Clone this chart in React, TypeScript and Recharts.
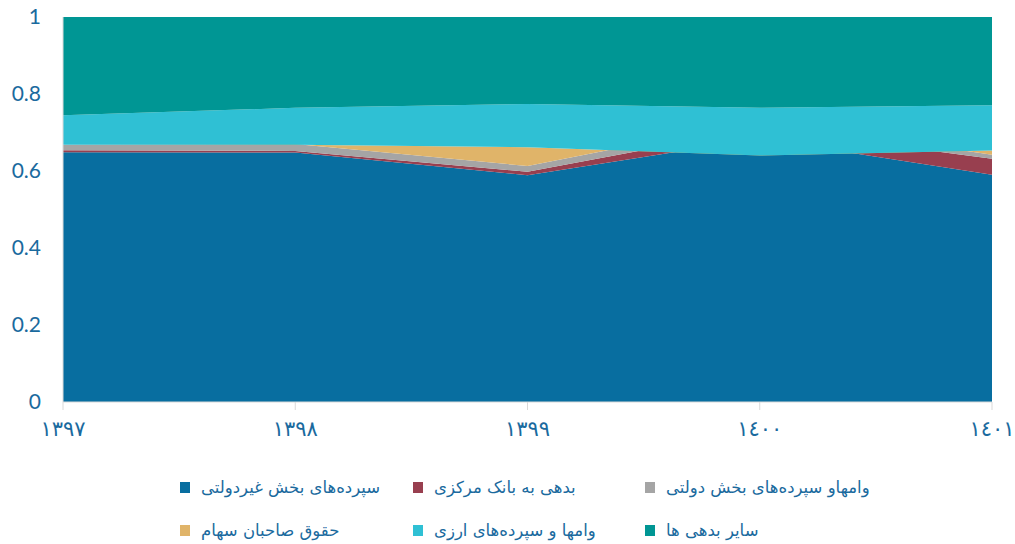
import { AreaChart, Area, XAxis, YAxis } from "recharts";

// years (Arabic-Indic digits as in the source chart)
const years = ["١٣٩٧", "١٣٩٨", "١٣٩٩", "١٤٠٠", "١٤٠١"];

// shares of total
const nonGovDeposits = [0.649, 0.648, 0.589, 0.684, 0.59];
const centralBankDebt = [0.005, 0.004, 0.009, 0.027, 0.042];
const govLoansDeposits = [0.014, 0.018, 0.015, 0.021, 0.01];
const equity = [0, -0.002, 0.049, -0.092, 0.011];
const fxLoansDeposits = [0.077, 0.096, 0.112, 0.124, 0.118];
const otherDebts = [0.255, 0.236, 0.226, 0.236, 0.229];

const yTicks = [0, 0.2, 0.4, 0.6, 0.8, 1];

const series = [
  { key: "nonGov", name: "سپرده‌های بخش غیردولتی", color: "#086ea0", values: nonGovDeposits },
  { key: "cb", name: "بدهی به بانک مرکزی", color: "#983f4f", values: centralBankDebt },
  { key: "gov", name: "وامهاو سپرده‌های بخش دولتی", color: "#a5a5a5", values: govLoansDeposits },
  { key: "equity", name: "حقوق صاحبان سهام", color: "#e0b469", values: equity },
  { key: "fx", name: "وامها و سپرده‌های ارزی", color: "#2fc0d4", values: fxLoansDeposits },
  { key: "other", name: "سایر بدهی ها", color: "#009694", values: otherDebts },
];

const data = years.map((year, i) => {
  const row: Record<string, string | number> = { year };
  series.forEach((s) => {
    row[s.key] = s.values[i];
  });
  return row;
});

const textColor = "#1a6a9e";
const colLeft = [180, 413, 645];
const rowTop = [476, 519];

function ChartLegend() {
  return (
    <>
      {series.map((s, i) => (
        <div
          key={s.key}
          style={{
            position: "absolute",
            left: colLeft[i % 3],
            top: rowTop[Math.floor(i / 3)],
            height: 22,
            display: "flex",
            alignItems: "center",
            gap: 11,
            whiteSpace: "nowrap",
          }}
        >
          <span style={{ width: 10, height: 11, background: s.color, display: "inline-block" }} />
          <span style={{ fontFamily: "DejaVu Sans", fontSize: 16.5, color: textColor }}>{s.name}</span>
        </div>
      ))}
    </>
  );
}

export default function App() {
  return (
    <div style={{ position: "absolute", left: 0, top: 0, width: 1015, height: 544, background: "#fff" }}>
      <AreaChart width={1015} height={460} data={data} margin={{ top: 17, right: 23, left: 0, bottom: 18 }}>
        <XAxis
          dataKey="year"
          height={40}
          tickSize={8}
          tickMargin={11}
          axisLine={{ stroke: "#d9d9d9" }}
          tickLine={{ stroke: "#d9d9d9" }}
          tick={{ fill: textColor, fontSize: 21, fontFamily: "DejaVu Sans" }}
          interval={0}
        />
        <YAxis
          width={63}
          domain={[0, 1]}
          ticks={yTicks}
          allowDataOverflow
          tickSize={0}
          tickMargin={22}
          tickLine={false}
          axisLine={{ stroke: "#d9d9d9" }}
          tick={{ fill: textColor, fontSize: 21, fontFamily: "Lato" }}
          tickFormatter={(v: number) => String(v)}
        />
        {series.map((s) => (
          <Area
            key={s.key}
            type="linear"
            dataKey={s.key}
            name={s.name}
            stackId="a"
            stroke="none"
            fill={s.color}
            fillOpacity={1}
            isAnimationActive={false}
          />
        ))}
      </AreaChart>
      <ChartLegend />
    </div>
  );
}
